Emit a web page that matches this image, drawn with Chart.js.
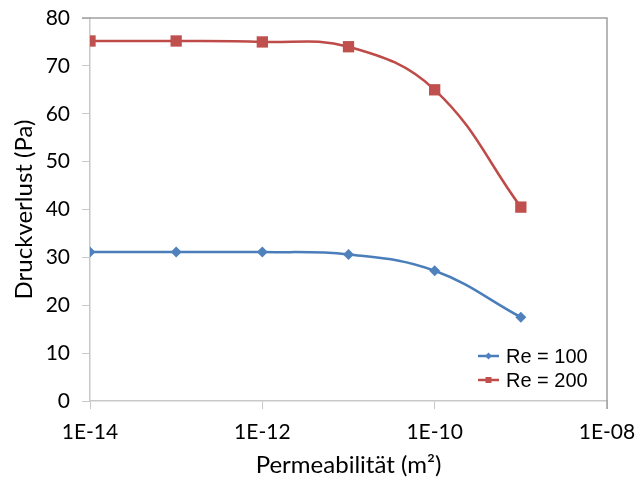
<!DOCTYPE html>
<html>
<head>
<meta charset="utf-8">
<script src="https://cdn.jsdelivr.net/npm/chart.js@4/dist/chart.umd.min.js"></script>
<style>
  html, body { margin: 0; padding: 0; background: #fff; }
  #wrap { width: 636px; height: 482px; }
</style>
</head>
<body>
<div id="wrap"><canvas id="myChart" width="636" height="482"></canvas></div>
<script>
'use strict';

// data
let permeability = [1e-14, 1e-13, 1e-12, 1e-11, 1e-10, 1e-9];
let re100 = [31.1, 31.1, 31.1, 30.6, 27.2, 17.5];
let re200 = [75.2, 75.2, 75.0, 74.0, 65.0, 40.5];
let seriesNames = ['Re = 100', 'Re = 200'];
let xTickValues = [1e-14, 1e-12, 1e-10, 1e-8];
let xTickLabels = ['1E-14', '1E-12', '1E-10', '1E-08'];

const tickFont = { family: 'Lato', size: 21 };
const titleFont = { family: 'Lato', size: 24 };

function toPoints(values) {
  let pts = [];
  for (let i = 0; i < permeability.length; i++) {
    pts.push({ x: permeability[i], y: values[i] });
  }
  return pts;
}

// grey frame on top and right of the plot area
const frame = {
  id: 'frame',
  beforeDatasetsDraw(chart) {
    const a = chart.chartArea;
    const ctx = chart.ctx;
    ctx.save();
    ctx.strokeStyle = '#a0a0a0';
    ctx.lineWidth = 1.5;
    ctx.beginPath();
    ctx.moveTo(a.left - 8, a.top);
    ctx.lineTo(a.right, a.top);
    ctx.lineTo(a.right, a.bottom + 8);
    ctx.stroke();
    ctx.restore();
  }
};

// line + marker legend inside the plot, bottom right
const lineLegend = {
  id: 'lineLegend',
  afterDraw(chart) {
    const a = chart.chartArea;
    const ctx = chart.ctx;
    ctx.save();
    chart.data.datasets.forEach((ds, i) => {
      const y = a.bottom - 45 + i * 24;
      const x0 = a.right - 129;
      ctx.strokeStyle = ds.borderColor;
      ctx.lineWidth = 2.5;
      ctx.beginPath();
      ctx.moveTo(x0, y);
      ctx.lineTo(x0 + 21, y);
      ctx.stroke();
      ctx.fillStyle = ds.pointBackgroundColor;
      ctx.beginPath();
      if (ds.pointStyle === 'rectRot') {
        ctx.moveTo(x0 + 10.5, y - 3.5);
        ctx.lineTo(x0 + 14, y);
        ctx.lineTo(x0 + 10.5, y + 3.5);
        ctx.lineTo(x0 + 7, y);
        ctx.closePath();
      } else {
        ctx.rect(x0 + 7.5, y - 3, 6, 6);
      }
      ctx.fill();
      ctx.fillStyle = '#000';
      ctx.font = '20px "Liberation Sans", Arial, sans-serif';
      ctx.textBaseline = 'middle';
      ctx.textAlign = 'left';
      ctx.fillText(ds.label, x0 + 28, y + 1);
    });
    ctx.restore();
  }
};

const data = {
  datasets: [
    {
      label: seriesNames[0],
      data: toPoints(re100),
      borderColor: '#4a7ebb',
      backgroundColor: '#4f81bd',
      pointBackgroundColor: '#4f81bd',
      pointBorderWidth: 0,
      pointStyle: 'rectRot',
      pointRadius: 5.5,
      borderWidth: 2.5,
      tension: 0.4
    },
    {
      label: seriesNames[1],
      data: toPoints(re200),
      borderColor: '#be4b48',
      backgroundColor: '#c0504d',
      pointBackgroundColor: '#c0504d',
      pointBorderWidth: 0,
      pointStyle: 'rect',
      pointRadius: 8,
      borderWidth: 2.5,
      tension: 0.4
    }
  ]
};

const config = {
  type: 'line',
  data: data,
  plugins: [frame, lineLegend],
  options: {
    responsive: false,
    animation: false,
    layout: { padding: { left: 0, top: 18, right: 29, bottom: 0 } },
    plugins: {
      legend: { display: false },
      tooltip: { enabled: false }
    },
    scales: {
      x: {
        type: 'logarithmic',
        min: 1e-14,
        max: 1e-8,
        afterBuildTicks: (scale) => {
          scale.ticks = xTickValues.map(v => ({ value: v }));
        },
        afterFit: (scale) => {
          scale.height = 81;
          scale.paddingLeft = 0;
          scale.paddingRight = 0;
        },
        ticks: {
          autoSkip: false,
          maxRotation: 0,
          color: '#000',
          font: tickFont,
          padding: 11,
          callback: (value) => {
            let i = xTickValues.findIndex(v => Math.abs(Math.log10(v) - Math.log10(value)) < 1e-6);
            return i >= 0 ? xTickLabels[i] : '';
          }
        },
        grid: { drawOnChartArea: false, drawTicks: true, tickLength: 8, color: '#c8c8c8' },
        border: { display: true, color: '#c8c8c8', width: 1.5 },
        title: {
          display: true,
          text: 'Permeabilität (m²)',
          color: '#000',
          font: titleFont,
          padding: { top: 0, bottom: 2 }
        }
      },
      y: {
        min: 0,
        max: 80,
        afterFit: (scale) => {
          scale.width = 90;
          scale.paddingTop = 0;
          scale.paddingBottom = 0;
        },
        ticks: {
          stepSize: 10,
          color: '#000',
          font: tickFont,
          padding: 12
        },
        grid: { drawOnChartArea: false, drawTicks: true, tickLength: 8, color: '#c8c8c8' },
        border: { display: true, color: '#c8c8c8', width: 1.5 },
        title: {
          display: true,
          text: 'Druckverlust (Pa)',
          color: '#000',
          font: titleFont,
          padding: { top: 10, bottom: 0 }
        }
      }
    }
  }
};

const myChart = new Chart(document.getElementById('myChart'), config);
</script>
</body>
</html>
